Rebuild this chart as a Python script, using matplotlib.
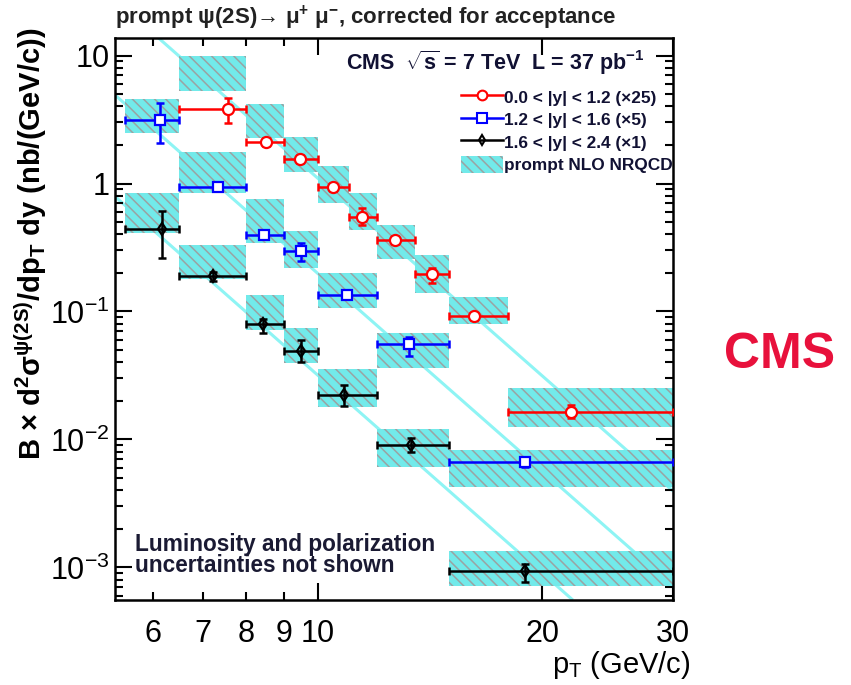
import matplotlib
matplotlib.use("Agg")
import matplotlib.pyplot as plt
from matplotlib.lines import Line2D
from matplotlib.patches import Patch

plt.rcParams['font.family'] = ['Liberation Sans', 'DejaVu Sans']
plt.rcParams['mathtext.fontset'] = 'custom'
plt.rcParams['mathtext.rm'] = 'Liberation Sans'
plt.rcParams['mathtext.it'] = 'Liberation Sans:italic'
plt.rcParams['mathtext.bf'] = 'Liberation Sans:bold'
plt.rcParams['mathtext.default'] = 'regular'
plt.rcParams['hatch.linewidth'] = 1.1

# ---------------- data ----------------
# 0.0<|y|<1.2 (x25)
red_lo = [6.5, 8, 9, 10, 11, 12, 13.5, 15, 18]
red_hi = [8, 9, 10, 11, 12, 13.5, 15, 18, 30]
red_pt = [7.57, 8.51, 9.46, 10.47, 11.46, 12.69, 14.22, 16.2, 21.9]
red_val = [3.82, 2.11, 1.55, 0.94, 0.547, 0.362, 0.196, 0.092, 0.0164]
red_err_lo = [2.97, 1.98, 1.45, 0.88, 0.474, 0.335, 0.168, 0.086, 0.0148]
red_err_hi = [4.66, 2.25, 1.66, 1.00, 0.64, 0.39, 0.218, 0.098, 0.0187]
red_th_lo = [5.28, 2.26, 1.23, 0.705, 0.434, 0.257, 0.14, 0.080, 0.01254]
red_th_hi = [9.9, 4.18, 2.31, 1.37, 0.843, 0.474, 0.276, 0.130, 0.0252]

# 1.2<|y|<1.6 (x5)
blue_lo = [5.5, 6.5, 8, 9, 10, 12, 15]
blue_hi = [6.5, 8, 9, 10, 12, 15, 30]
blue_pt = [6.12, 7.34, 8.46, 9.49, 10.94, 13.25, 19.0]
blue_val = [3.13, 0.94, 0.396, 0.297, 0.1346, 0.0557, 0.00667]
blue_err_lo = [2.07, 0.88, 0.37, 0.25, 0.125, 0.0449, 0.0061]
blue_err_hi = [4.25, 1.00, 0.42, 0.34, 0.145, 0.0632, 0.0073]
blue_th_lo = [2.48, 0.843, 0.343, 0.219, 0.106, 0.0362, 0.00425]
blue_th_hi = [4.57, 1.76, 0.757, 0.426, 0.2, 0.0679, 0.00828]

# 1.6<|y|<2.4 (x1)
black_lo = [5.5, 6.5, 8, 9, 10, 12, 15]
black_hi = [6.5, 8, 9, 10, 12, 15, 30]
black_pt = [6.17, 7.23, 8.43, 9.49, 10.84, 13.33, 19.0]
black_val = [0.441, 0.189, 0.0798, 0.0491, 0.0223, 0.00906, 0.00094]
black_err_lo = [0.262, 0.172, 0.0679, 0.0403, 0.0183, 0.0080, 0.00077]
black_err_hi = [0.609, 0.205, 0.0868, 0.0599, 0.0266, 0.0102, 0.00106]
black_th_lo = [0.41, 0.18, 0.0716, 0.0396, 0.018, 0.0061, 0.000716]
black_th_hi = [0.843, 0.331, 0.1345, 0.0743, 0.0356, 0.0121, 0.00135]

# theory power-law guide lines (end points)
red_line_pt = [6.10, 30.0]
red_line_val = [13.7, 0.00396]
blue_line_pt = [5.34, 30.0]
blue_line_val = [4.87, 0.000716]
black_line_pt = [5.34, 22.0]
black_line_val = [0.785, 0.000557]

legend_labels = ["0.0 < |y| < 1.2 (\u00d725)", "1.2 < |y| < 1.6 (\u00d75)",
                 "1.6 < |y| < 2.4 (\u00d71)", "prompt NLO NRQCD"]
xtick_major = [10, 20, 30]
xtick_minor = [6, 7, 8, 9]
ytick_major = [1e-3, 1e-2, 1e-1, 1, 10]
ytick_labels = ["10$^{-3}$", "10$^{-2}$", "10$^{-1}$", "1", "10"]

# ---------------- figure ----------------
fig = plt.figure(figsize=(8.51, 6.85), dpi=100)
ax = fig.add_axes([0.1351, 0.1241, 0.6557, 0.8204])
ax.set_xscale('log')
ax.set_yscale('log')
ax.set_xlim(5.33, 30)
ax.set_ylim(5.57e-4, 13.7)

CYAN = '#72eaea'
HATCH_C = '#9aa3a3'
LINE_C = '#8ef4f4'

for lp, lv in [(red_line_pt, red_line_val), (blue_line_pt, blue_line_val),
               (black_line_pt, black_line_val)]:
    ax.plot(lp, lv, color=LINE_C, lw=2.2, zorder=1, solid_capstyle='butt')

for lo, hi, tlo, thi in [(red_lo, red_hi, red_th_lo, red_th_hi),
                         (blue_lo, blue_hi, blue_th_lo, blue_th_hi),
                         (black_lo, black_hi, black_th_lo, black_th_hi)]:
    widths = [h - l for l, h in zip(lo, hi)]
    heights = [h - l for l, h in zip(tlo, thi)]
    ax.bar(lo, heights, width=widths, bottom=tlo, align='edge',
           color=CYAN, edgecolor=HATCH_C, linewidth=0, hatch='\\\\\\', zorder=2)

def draw(pt, val, lo, hi, elo, ehi, color, marker, ms, mfc):
    xerr = [[p - l for p, l in zip(pt, lo)], [h - p for p, h in zip(pt, hi)]]
    yerr = [[v - e for v, e in zip(val, elo)], [e - v for v, e in zip(val, ehi)]]
    ax.errorbar(pt, val, xerr=xerr, yerr=yerr, fmt='none', ecolor=color,
                elinewidth=1.8, capsize=3.2, capthick=1.8, zorder=3)
    ax.plot(pt, val, linestyle='none', marker=marker, ms=ms, mfc=mfc,
            mec=color, mew=1.6, zorder=4)

draw(red_pt, red_val, red_lo, red_hi, red_err_lo, red_err_hi, 'red', 'o', 8, 'white')
draw(blue_pt, blue_val, blue_lo, blue_hi, blue_err_lo, blue_err_hi, 'blue', 's', 7.5, 'white')
draw(black_pt, black_val, black_lo, black_hi, black_err_lo, black_err_hi, 'black', 'd', 6, 'none')

# ticks
ax.set_xticks(xtick_major)
ax.set_xticklabels([str(t) for t in xtick_major])
ax.set_xticks(xtick_minor, minor=True)
ax.set_xticklabels([str(t) for t in xtick_minor], minor=True)
ax.set_yticks(ytick_major)
ax.set_yticklabels(ytick_labels)
ax.tick_params(axis='both', which='both', direction='in', top=True, right=True,
               width=1.5, colors='black')
ax.tick_params(axis='x', which='major', length=12, labelsize=22, pad=14)
ax.tick_params(axis='x', which='minor', length=6, labelsize=22, pad=14)
ax.tick_params(axis='y', which='major', length=12, labelsize=22, pad=4)
ax.tick_params(axis='y', which='minor', length=6)
ax.yaxis.set_minor_formatter(matplotlib.ticker.NullFormatter())
for s in ax.spines.values():
    s.set_linewidth(1.8)

# labels
fig.text(690 / 851, 1 - 665 / 685, r"p$_{T}$ (GeV/c)", ha='right', va='center', fontsize=21)
fig.text(31 / 851, 1 - 28 / 685,
         "B \u00d7 d$^{2}$\u03c3$^{\u03c8(2S)}$/dp$_{T}$ dy (nb/(GeV/c))",
         rotation=90, ha='center', va='top', fontsize=21, fontweight='bold')
fig.text(115 / 851, 1 - 18 / 685,
         "prompt \u03c8(2S)\u2192 \u03bc$^{+}$ \u03bc$^{-}$, corrected for acceptance",
         ha='left', va='center', fontsize=16, fontweight='bold', color='#222222')
ax.text(0.950, 0.955, r"CMS  $\sqrt{s}$ = 7 TeV  L = 37 pb$^{-1}$", transform=ax.transAxes,
        ha='right', va='center', fontsize=15.5, fontweight='bold', color='#111133')
ax.text(0.035, 0.080, "Luminosity and polarization\nuncertainties not shown",
        transform=ax.transAxes, ha='left', va='center', fontsize=16.3,
        fontweight='bold', color='#1a1a33', linespacing=0.9)
fig.text(780 / 851, 1 - 355 / 685, "CMS", ha='center', va='center', fontsize=36,
         fontweight='bold', color='#e8113c')

handles = [
    Line2D([], [], color='red', lw=1.8, marker='o', ms=7, mfc='white', mec='red', mew=1.5),
    Line2D([], [], color='blue', lw=1.8, marker='s', ms=7, mfc='white', mec='blue', mew=1.5),
    Line2D([], [], color='black', lw=1.8, marker='d', ms=5, mfc='none', mec='black', mew=1.5),
    Patch(facecolor=CYAN, edgecolor=HATCH_C, hatch='\\\\\\', linewidth=0),
]
leg = ax.legend(handles, legend_labels, loc='upper left', bbox_to_anchor=(0.607, 0.923),
                frameon=False, handlelength=2.45, handleheight=1.15, handletextpad=0.1,
                labelspacing=0.3, borderaxespad=0,
                prop={'size': 12.4, 'weight': 'bold'})
for t in leg.get_texts():
    t.set_color('#111133')

fig.savefig('out.png', dpi=100)
